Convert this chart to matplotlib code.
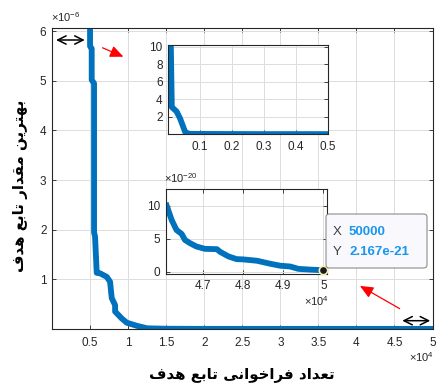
import matplotlib
matplotlib.use("Agg")
import matplotlib.pyplot as plt
from matplotlib.ticker import FuncFormatter, FixedLocator
from matplotlib.patches import FancyBboxPatch

plt.rcParams['font.family'] = ['Liberation Sans', 'DejaVu Sans']
plt.rcParams['mathtext.fontset'] = 'custom'
plt.rcParams['mathtext.rm'] = 'Liberation Sans'

# ---------------- data ----------------
evals_main = [4900, 5000, 5000, 5217, 5217, 5526, 5526, 5658, 5877, 6316, 7193, 7632,
              7850, 8290, 8290, 8728, 9167, 9825, 11200, 12500, 15000, 20000, 30000,
              40000, 50000]
best_main = [2.0e-5, 6.5e-6, 5.7e-6, 5.65e-6, 5.02e-6, 4.95e-6, 1.95e-6, 1.86e-6, 1.13e-6,
             1.12e-6, 1.05e-6, 0.95e-6, 0.62e-6, 0.48e-6, 0.35e-6, 0.28e-6, 0.21e-6,
             0.125e-6, 0.06e-6, 0.012e-6, 3e-9, 5e-10, 1e-12, 1e-16, 2.167e-21]

ins1_x = [0.006, 0.008, 0.011, 0.026, 0.037, 0.053, 0.065, 0.1, 0.2, 0.3, 0.4, 0.5]
ins1_y = [10.4, 10.0, 3.1, 2.6, 1.8, 0.25, 0.05, 0.03, 0.02, 0.01, 0.01, 0.01]

ins2_x = [4.606e4, 4.621e4, 4.633e4, 4.646e4, 4.654e4, 4.667e4, 4.683e4, 4.704e4, 4.734e4,
          4.742e4, 4.763e4, 4.783e4, 4.800e4, 4.834e4, 4.867e4, 4.892e4, 4.917e4,
          4.938e4, 4.970e4, 5.0e4]
ins2_y = [10.4e-20, 7.8e-20, 6.3e-20, 5.7e-20, 4.8e-20, 4.3e-20, 3.8e-20, 3.45e-20,
          3.4e-20, 3.0e-20, 2.3e-20, 1.9e-20, 1.85e-20, 1.65e-20, 1.2e-20, 0.9e-20,
          0.78e-20, 0.42e-20, 0.3e-20, 2.167e-21]

main_xticks = [5000, 10000, 15000, 20000, 25000, 30000, 35000, 40000, 45000, 50000]
main_yticks = [1e-6, 2e-6, 3e-6, 4e-6, 5e-6, 6e-6]
ins1_xticks = [0.1, 0.2, 0.3, 0.4, 0.5]
ins1_yticks = [2, 4, 6, 8, 10]
ins2_xticks = [4.7e4, 4.8e4, 4.9e4, 5.0e4]
ins2_yticks = [0, 5e-20, 10e-20]

tip_x_label = "50000"
tip_y_label = "2.167e-21"

# Persian labels (pre-shaped presentation forms, visual order)
xlabel_fa = ("\uFED1\uFEAA\uFEEB" + " " + "\uFECA\uFE91\uFE8E\uFE97" + " " +
             "\uFEF0\uFEE7\uFE8D\uFEEE\uFEA7\uFE8D\uFEAE\uFED3" + " " +
             "\uFEA9\uFE8D\uFEAA\uFECC\uFE97")
ylabel_fa = ("\uFED1\uFEAA\uFEEB" + " " + "\uFECA\uFE91\uFE8E\uFE97" + " " +
             "\uFEAD\uFE8D\uFEAA\uFED8\uFEE3" + " " +
             "\uFEE6\uFEF3\uFEAE\uFE98\uFEEC\uFE91")

blue = '#0072BD'
axc = '#262626'
W, H = 437, 383

fig = plt.figure(figsize=(W / 100, H / 100), dpi=100)


def frac(l, t, r, b):
    return [l / W, 1 - b / H, (r - l) / W, (b - t) / H]


def style(ax, fs=8):
    ax.tick_params(direction='in', length=3, width=0.6, colors=axc, labelsize=fs,
                   top=True, right=True, pad=4)
    for s in ax.spines.values():
        s.set_color(axc)
        s.set_linewidth(0.8)
    ax.grid(True, color='#dcdcdc', linewidth=0.7)
    ax.set_axisbelow(True)


# main axes
ax = fig.add_axes(frac(52, 28.3, 432.5, 328.9))
ax.plot(evals_main, best_main, color=blue, lw=4.2, solid_joinstyle='round')
ax.set_xlim(0, 50000)
ax.set_ylim(0, 6.06e-6)
ax.xaxis.set_major_locator(FixedLocator(main_xticks))
ax.yaxis.set_major_locator(FixedLocator(main_yticks))
ax.xaxis.set_major_formatter(FuncFormatter(lambda v, p: '%g' % (v / 1e4)))
ax.yaxis.set_major_formatter(FuncFormatter(lambda v, p: '%g' % round(v / 1e-6, 6)))
style(ax, 8.5)
ax.tick_params(axis='x', pad=6)
ax.annotate('$\\mathregular{×10^{-6}}$', xy=(0, 1), xycoords='axes fraction',
            xytext=(-1, 3), textcoords='offset points', ha='left', va='bottom',
            fontsize=8, color=axc)
ax.annotate('$\\mathregular{×10^{4}}$', xy=(1, 0), xycoords='axes fraction',
            xytext=(1, -15), textcoords='offset points', ha='right', va='top',
            fontsize=8, color=axc)
fig.text(242 / W, 1 - 374 / H, xlabel_fa, family='DejaVu Sans', fontweight='bold',
         fontsize=10.8, ha='center', va='center', color='black')
fig.text(21 / W, 1 - 186 / H, ylabel_fa, family='DejaVu Sans', fontweight='bold',
         fontsize=10.8, ha='center', va='center', rotation=90, color='black')

# inset 1
a1 = fig.add_axes(frac(168.3, 45, 327.5, 134.2))
a1.set_facecolor('white')
a1.plot(ins1_x, ins1_y, color=blue, lw=4.2, solid_joinstyle='round')
a1.set_xlim(0, 0.5)
a1.set_ylim(0, 10.2)
a1.xaxis.set_major_locator(FixedLocator(ins1_xticks))
a1.yaxis.set_major_locator(FixedLocator(ins1_yticks))
a1.xaxis.set_major_formatter(FuncFormatter(lambda v, p: '%g' % v))
a1.yaxis.set_major_formatter(FuncFormatter(lambda v, p: '%g' % v))
style(a1, 8.5)
a1.tick_params(top=False, right=False, axis='x', pad=5)

# inset 2
a2 = fig.add_axes(frac(165.7, 189, 327.3, 274.3))
a2.set_facecolor('white')
a2.plot(ins2_x, ins2_y, color=blue, lw=4.2, solid_joinstyle='round', solid_capstyle='butt')
a2.plot([ins2_x[-1]], [ins2_y[-1]], 'o', ms=6, mfc='#1a1a1a', mec='#f4f0b0', mew=1.2,
        clip_on=False, zorder=5)
a2.set_xlim(4.606e4, 5.01e4)
a2.set_ylim(-0.4e-20, 12.5e-20)
a2.xaxis.set_major_locator(FixedLocator(ins2_xticks))
a2.yaxis.set_major_locator(FixedLocator(ins2_yticks))
a2.xaxis.set_major_formatter(FuncFormatter(lambda v, p: '%g' % round(v / 1e4, 4)))
a2.yaxis.set_major_formatter(FuncFormatter(lambda v, p: '%g' % round(v / 1e-20, 4)))
style(a2, 8.5)
a2.annotate('$\\mathregular{×10^{-20}}$', xy=(0, 1), xycoords='axes fraction',
            xytext=(-1, 3), textcoords='offset points', ha='left', va='bottom',
            fontsize=8, color=axc)
a2.annotate('$\\mathregular{×10^{4}}$', xy=(1, 0), xycoords='axes fraction',
            xytext=(1, -14), textcoords='offset points', ha='right', va='top',
            fontsize=8, color=axc)

# data tip
box = FancyBboxPatch((326 / W, 1 - 268 / H), (427 - 326) / W, (268 - 214) / H,
                     boxstyle='round,pad=0,rounding_size=0.008', transform=fig.transFigure,
                     facecolor='#f9f9fd', edgecolor='#8c8c8c', linewidth=0.8, zorder=10)
fig.patches.append(box)
fig.text(333 / W, 1 - 232 / H, 'X', fontsize=9.5, color='#404040', va='center', zorder=11)
fig.text(349 / W, 1 - 232 / H, tip_x_label, fontsize=9.5, color='#1a96f0',
         fontweight='bold', va='center', zorder=11)
fig.text(333 / W, 1 - 252 / H, 'Y', fontsize=9.5, color='#404040', va='center', zorder=11)
fig.text(349 / W, 1 - 252 / H, tip_y_label, fontsize=9.5, color='#1a96f0',
         fontweight='bold', va='center', zorder=11)


# arrows (figure pixel coordinates, origin at top-left of image)
def farrow(x0, y0, x1, y1, style_, color, lw, ms):
    fig.add_artist(matplotlib.patches.FancyArrowPatch(
        (x0 / W, 1 - y0 / H), (x1 / W, 1 - y1 / H), transform=fig.transFigure,
        arrowstyle=style_, color=color, lw=lw, mutation_scale=ms, zorder=12))


farrow(100, 46.7, 126, 57.8, '-|>,head_length=0.8,head_width=0.35', 'red', 0.9, 10)
farrow(402, 310, 357.5, 284.5, '-|>,head_length=0.8,head_width=0.35', 'red', 0.9, 10)
farrow(53.3, 40, 87.5, 40, '<->,head_length=0.6,head_width=0.3', 'black', 1.1, 10)
farrow(399.5, 320.7, 433, 320.7, '<->,head_length=0.6,head_width=0.3', 'black', 1.1, 10)

fig.savefig('out.png', dpi=100)
